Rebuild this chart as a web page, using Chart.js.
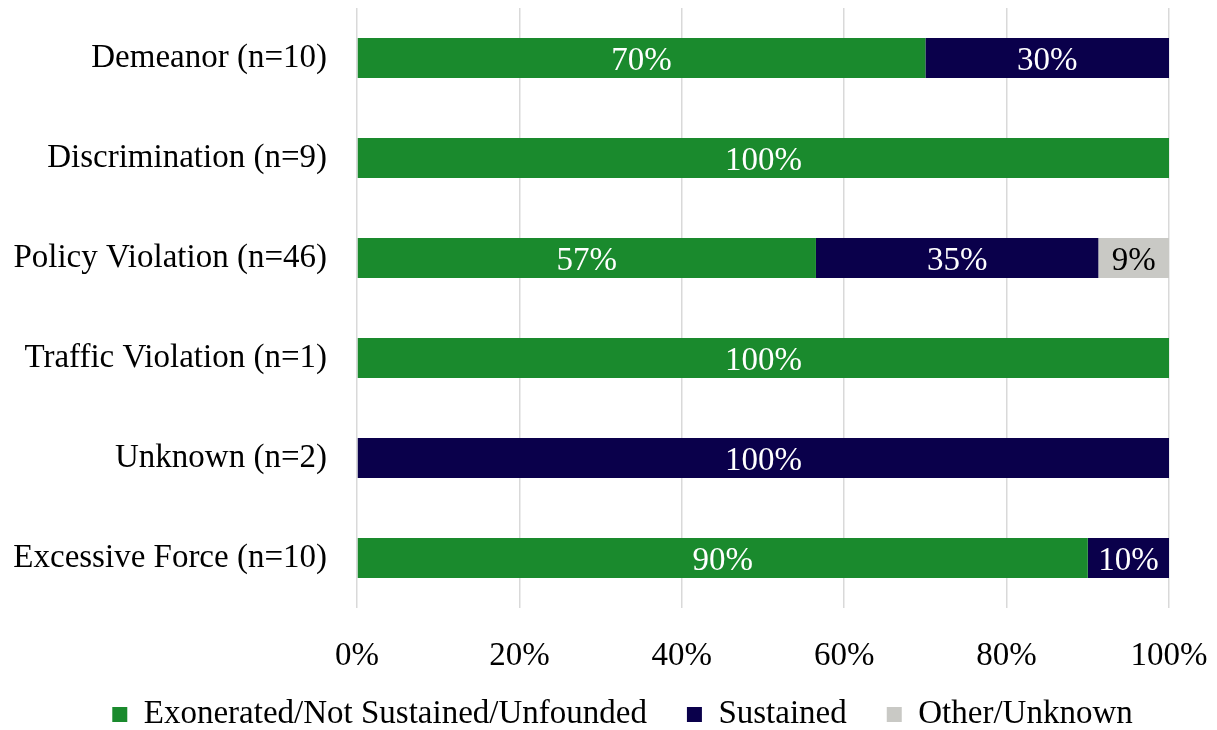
<!DOCTYPE html>
<html>
<head>
<meta charset="utf-8">
<script src="https://cdn.jsdelivr.net/npm/chart.js@4.4.1/dist/chart.umd.min.js"></script>
<style>
    html, body { margin: 0; padding: 0; background: #fff; }
    #wrap { width: 1217px; height: 730px; }
</style>
</head>
<body>
<div id="wrap"><canvas id="outcomeChart" width="1217" height="730"></canvas></div>
<script>
// Categorie di denuncia e percentuali per esito
const categories = [
    'Demeanor (n=10)',
    'Discrimination (n=9)',
    'Policy Violation (n=46)',
    'Traffic Violation (n=1)',
    'Unknown (n=2)',
    'Excessive Force (n=10)'
];
const exonerated = [70, 100, 56.52, 100, 0, 90];
const sustained = [30, 0, 34.78, 0, 100, 10];
const otherUnknown = [0, 0, 8.70, 0, 0, 0];
const seriesNames = ['Exonerated/Not Sustained/Unfounded', 'Sustained', 'Other/Unknown'];
const xTicks = [0, 20, 40, 60, 80, 100];

const FONT = "'Liberation Serif', 'Times New Roman', serif";

// Azzera il padding automatico degli assi, così l'area del grafico resta fissa
const noScalePadding = axis => {
    axis.paddingTop = 0;
    axis.paddingBottom = 0;
    axis.paddingLeft = 0;
    axis.paddingRight = 0;
};

// Sposta la legenda sotto l'asse, centrata sotto l'intero grafico
const legendShift = {
    id: 'legendShift',
    afterLayout(chart) {
        const lg = chart.legend;
        lg.top -= 20;
        lg.bottom -= 20;
        lg.left += 38;
        lg.right += 38;
    }
};

// Etichette percentuali al centro di ogni segmento
const barLabels = {
    id: 'barLabels',
    afterDatasetsDraw(chart) {
        const ctx = chart.ctx;
        ctx.save();
        ctx.font = '33px ' + FONT;
        ctx.textAlign = 'center';
        ctx.textBaseline = 'middle';
        chart.data.datasets.forEach((ds, i) => {
            const meta = chart.getDatasetMeta(i);
            meta.data.forEach((bar, j) => {
                const v = ds.data[j];
                if (!v) return;
                const p = bar.getCenterPoint();
                ctx.fillStyle = ds.labelColor;
                ctx.fillText(Math.round(v) + '%', p.x, p.y + 3);
            });
        });
        ctx.restore();
    }
};

new Chart(document.getElementById('outcomeChart'), {
    type: 'bar',
    data: {
        labels: categories,
        datasets: [
            { label: seriesNames[0], data: exonerated, backgroundColor: '#1a8a2d', labelColor: '#ffffff' },
            { label: seriesNames[1], data: sustained, backgroundColor: '#0a004b', labelColor: '#ffffff' },
            { label: seriesNames[2], data: otherUnknown, backgroundColor: '#c9c9c5', labelColor: '#000000' }
        ]
    },
    options: {
        indexAxis: 'y',
        responsive: false,
        animation: false,
        datasets: { bar: { categoryPercentage: 0.8, barPercentage: 0.5 } },
        layout: { padding: { top: 8, right: 48, left: 0, bottom: -31 } },
        scales: {
            x: {
                stacked: true,
                min: 0,
                max: 100,
                afterBuildTicks: axis => { axis.ticks = xTicks.map(v => ({ value: v })); },
                afterFit: axis => { axis.height = 70; noScalePadding(axis); },
                grid: { color: '#d9d9d9', lineWidth: 1.5, drawTicks: false },
                border: { display: false },
                ticks: {
                    padding: 29,
                    color: '#000',
                    font: { family: FONT, size: 33 },
                    callback: v => v + '%'
                }
            },
            y: {
                stacked: true,
                grid: { display: false, drawTicks: false },
                border: { display: false },
                afterFit: axis => { axis.width = 357; noScalePadding(axis); },
                ticks: {
                    padding: 30,
                    color: '#000',
                    font: { family: FONT, size: 33 }
                }
            }
        },
        plugins: {
            legend: {
                position: 'bottom',
                labels: {
                    color: '#000',
                    font: { family: FONT, size: 33 },
                    boxWidth: 15,
                    boxHeight: 15,
                    padding: 40
                }
            },
            tooltip: { enabled: false }
        }
    },
    plugins: [legendShift, barLabels]
});
</script>
</body>
</html>
